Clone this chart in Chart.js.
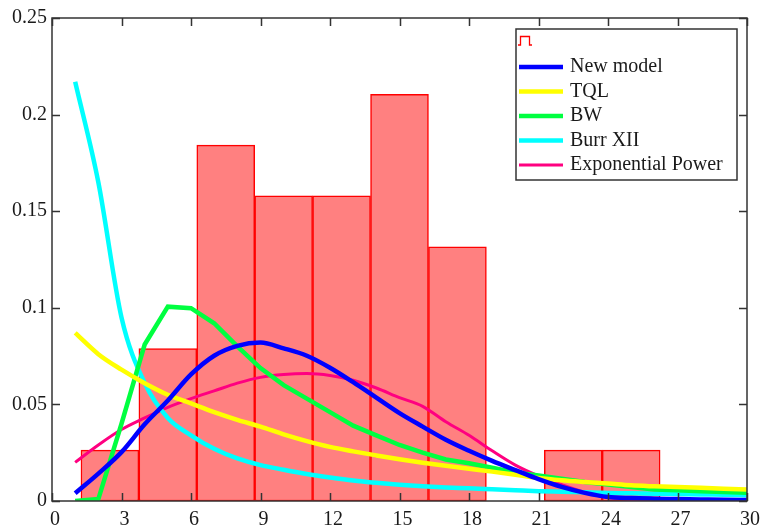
<!DOCTYPE html>
<html>
<head>
<meta charset="utf-8">
<script src="https://cdn.jsdelivr.net/npm/chart.js@4.4.1/dist/chart.umd.min.js"></script>
<style>
    html, body { margin: 0; padding: 0; background: #fff; }
</style>
</head>
<body>
<canvas id="chart" width="764" height="528"></canvas>
<script>
/*global Chart*/
"use strict";

// Histogram: bin centres (width 2.5) and relative frequencies
var binCenters = [2.5, 5, 7.5, 10, 12.5, 15, 17.5, 20, 22.5, 25];
var binHeights = [0.0263, 0.0789, 0.1842, 0.1579, 0.1579, 0.2105, 0.1316, 0, 0.0263, 0.0263];

// Fitted densities, read at x = 1..30
var xValues = [1, 2, 3, 4, 5, 6, 7, 8, 9, 10, 11, 12, 13, 14, 15,
    16, 17, 18, 19, 20, 21, 22, 23, 24, 25, 26, 27, 28, 29, 30];
var newModel = [0.004, 0.0142, 0.0253, 0.0397, 0.052, 0.0655, 0.0752, 0.0803, 0.082, 0.079,
    0.0752, 0.069, 0.0615, 0.0535, 0.0455, 0.0385, 0.0317, 0.026, 0.0208, 0.016,
    0.0113, 0.0073, 0.0042, 0.0021, 0.0015, 0.0012, 0.001, 0.0008, 0.0006, 0.0005];
var tql = [0.087, 0.076, 0.068, 0.061, 0.055, 0.0505, 0.046, 0.042, 0.0385, 0.0345,
    0.031, 0.028, 0.0257, 0.0236, 0.0216, 0.0198, 0.0182, 0.0167, 0.0152, 0.0136,
    0.0119, 0.0107, 0.0098, 0.009, 0.0081, 0.0076, 0.0072, 0.0068, 0.0064, 0.006];
var bw = [0, 0.001, 0.040, 0.081, 0.1006, 0.0998, 0.092, 0.080, 0.0688, 0.060,
    0.053, 0.046, 0.039, 0.034, 0.029, 0.025, 0.0215, 0.0195, 0.0172, 0.0148,
    0.0132, 0.0115, 0.0098, 0.0085, 0.0072, 0.006, 0.0055, 0.005, 0.0046, 0.0043];
var burr = [0.217, 0.165, 0.095, 0.061, 0.043, 0.034, 0.027, 0.022, 0.0186, 0.0162,
    0.014, 0.0122, 0.0106, 0.0094, 0.0084, 0.0076, 0.007, 0.0066, 0.0061, 0.0056,
    0.0051, 0.0048, 0.0045, 0.0042, 0.004, 0.0038, 0.0036, 0.0034, 0.0032, 0.003];
var expPower = [0.020, 0.029, 0.037, 0.043, 0.0485, 0.053, 0.057, 0.061, 0.064, 0.0655,
    0.066, 0.065, 0.0625, 0.0585, 0.0535, 0.049, 0.041, 0.034, 0.026, 0.0186,
    0.013, 0.0085, 0.0045, 0.0018, 0.0008, 0.0004, 0.0003, 0.0002, 0.0002, 0.0002];

var seriesNames = ["New model", "TQL", "BW", "Burr XII", "Exponential Power"];
var seriesValues = [newModel, tql, bw, burr, expPower];
var seriesColors = ["#0000ff", "#ffff00", "#00ff40", "#00ffff", "#ff0080"];
var seriesWidths = [4.5, 4.5, 4.5, 4.5, 3];
var seriesSmooth = [true, true, false, true, true];

var FONT = "Liberation Serif";
var INK = "#1a1a1a";

function _points(xs, ys) {
    var out = [];
    xs.forEach(function(x, i) {
        out.push({ x: x, y: ys[i] });
    });
    return out;
}

var datasets = [{
    type: "bar",
    label: "hist",
    data: _points(binCenters, binHeights),
    backgroundColor: "#ff8080",
    borderColor: "#ff0000",
    borderWidth: 1.5,
    borderSkipped: false,
    barPercentage: 1,
    categoryPercentage: 1,
    order: 10
}];
seriesNames.forEach(function(name, i) {
    datasets.push({
        type: "line",
        label: name,
        data: _points(xValues, seriesValues[i]),
        borderColor: seriesColors[i],
        borderWidth: seriesWidths[i],
        pointRadius: 0,
        tension: seriesSmooth[i] ? 0.4 : 0,
        cubicInterpolationMode: seriesSmooth[i] ? "monotone" : "default",
        fill: false,
        order: i + 1
    });
});

// frame, inward ticks and the boxed legend
var frame = {
    id: "frame",
    afterDraw: function(chart) {
        var ctx = chart.ctx;
        var a = chart.chartArea;
        var xs = chart.scales.x, ys = chart.scales.y;
        var tl = 8;
        ctx.save();
        ctx.strokeStyle = "#333";
        ctx.lineWidth = 1.5;
        ctx.strokeRect(a.left, a.top, a.right - a.left, a.bottom - a.top);
        ctx.beginPath();
        xs.ticks.forEach(function(t) {
            var px = Math.round(xs.getPixelForValue(t.value)) + 0.5;
            ctx.moveTo(px, a.bottom); ctx.lineTo(px, a.bottom - tl);
            ctx.moveTo(px, a.top); ctx.lineTo(px, a.top + tl);
        });
        ys.ticks.forEach(function(t) {
            var py = Math.round(ys.getPixelForValue(t.value)) + 0.5;
            ctx.moveTo(a.left, py); ctx.lineTo(a.left + tl, py);
            ctx.moveTo(a.right, py); ctx.lineTo(a.right - tl, py);
        });
        ctx.stroke();

        // legend
        var bx = 516, by = 29, bw2 = 221, bh = 151;
        ctx.fillStyle = "#fff";
        ctx.fillRect(bx, by, bw2, bh);
        ctx.strokeStyle = "#333";
        ctx.lineWidth = 1.5;
        ctx.strokeRect(bx, by, bw2, bh);

        ctx.strokeStyle = "#ff0000";
        ctx.lineWidth = 1.3;
        ctx.beginPath();
        ctx.moveTo(518, 45); ctx.lineTo(520.5, 45); ctx.lineTo(520.5, 36.5);
        ctx.lineTo(529.5, 36.5); ctx.lineTo(529.5, 45); ctx.lineTo(532, 45);
        ctx.stroke();

        ctx.font = "20px '" + FONT + "'";
        ctx.textBaseline = "middle";
        ctx.textAlign = "left";
        chart.data.datasets.forEach(function(ds) {
            if (ds.type !== "line") { return; }
            var i = seriesNames.indexOf(ds.label);
            var y = 67 + i * 24.5;
            ctx.strokeStyle = ds.borderColor;
            ctx.lineWidth = ds.borderWidth;
            ctx.beginPath();
            ctx.moveTo(519, y); ctx.lineTo(563, y);
            ctx.stroke();
            ctx.fillStyle = INK;
            ctx.fillText(ds.label, 570, y);
        });
        ctx.restore();
    }
};

new Chart(document.getElementById("chart"), {
    type: "bar",
    data: { datasets: datasets },
    plugins: [frame],
    options: {
        responsive: false,
        devicePixelRatio: 1,
        animation: false,
        layout: { padding: { top: 18, right: 16, left: 0, bottom: 0 } },
        plugins: { legend: { display: false }, tooltip: { enabled: false } },
        scales: {
            x: {
                type: "linear",
                min: 0,
                max: 30,
                offset: false,
                grid: { display: false, drawTicks: false },
                border: { display: false },
                ticks: {
                    stepSize: 3,
                    padding: 7,
                    labelOffset: 3,
                    color: INK,
                    font: { family: FONT, size: 20 }
                },
                afterFit: function(s) { s.height = 27; }
            },
            y: {
                min: 0,
                max: 0.25,
                grid: { display: false, drawTicks: false },
                border: { display: false },
                ticks: {
                    stepSize: 0.05,
                    padding: 5,
                    color: INK,
                    font: { family: FONT, size: 20 },
                    callback: function(v) { return String(Math.round(v * 100) / 100); }
                },
                afterFit: function(s) { s.width = 52; }
            }
        }
    }
});
</script>
</body>
</html>
